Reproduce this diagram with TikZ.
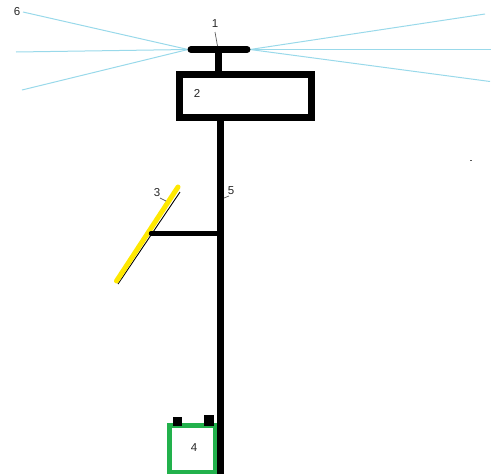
\documentclass[tikz,border=0pt]{standalone}
\usepackage{fontspec}
\setmainfont{Liberation Sans}
\definecolor{ray}{RGB}{153,217,234}
\definecolor{batt}{RGB}{34,177,76}
\definecolor{panel}{RGB}{255,232,0}
\definecolor{lead}{RGB}{90,90,90}
\tikzset{
  rayline/.style={draw=ray,line width=1pt},
  struct/.style={draw=black,line width=7pt},
  leader/.style={draw=lead,line width=0.7pt},
  lab/.style={font=\fontsize{11.5}{12}\selectfont,text=black!85,inner sep=0pt},
  boxshape/.style={rectangle,inner sep=0pt,draw=black,line width=7pt},
  term/.style={rectangle,inner sep=0pt,fill=black}
}
\begin{document}
\begin{tikzpicture}[x=1pt,y=-1pt]
\useasboundingbox (0,0) rectangle (491,474);
% rays
\coordinate (lt) at (188,49.5);
\coordinate (rt) at (250,49.5);
\coordinate (r1) at (23,12);
\coordinate (r2) at (16,52);
\coordinate (r3) at (22,90);
\coordinate (r4) at (485,14);
\coordinate (r5) at (491,49.5);
\coordinate (r6) at (490,81.5);
\foreach \e in {r1,r2,r3}{\draw[rayline] (lt) -- (\e);}
\foreach \e in {r4,r5,r6}{\draw[rayline] (rt) -- (\e);}
% controller box
\node[boxshape,minimum width=132pt,minimum height=43pt] (box) at (245.5,96) {};
% lamp
\coordinate (la) at (191,49.5);
\coordinate (lb) at (247,49.5);
\draw[struct,line cap=round] (la) -- (lb);
\coordinate (lampmid) at (218,49.5);
\coordinate (boxtop) at (218,72);
\draw[struct] (lampmid) -- (boxtop);
% battery
\node[rectangle,inner sep=0pt,draw=batt,line width=5pt,minimum width=45.5pt,minimum height=46.5pt] (batt) at (192.5,449) {};
\node[term,minimum width=9pt,minimum height=9pt] (tl) at (177.5,421.3) {};
\node[term,minimum width=10pt,minimum height=11pt] (tr) at (209.2,420.3) {};
% pole
\coordinate (poletop) at (220.3,118);
\coordinate (polebot) at (220.3,474);
\draw[struct] (poletop) -- (polebot);
% panel
\coordinate (pa) at (180,192);
\coordinate (pb) at (118,284);
\draw[draw=black,line width=0.9pt] (pa) -- (pb);
\coordinate (pc) at (178,187);
\coordinate (pd) at (116.5,281);
\draw[draw=panel,line width=5pt,line cap=round] (pc) -- (pd);
\coordinate (arm) at (151,233.5);
\coordinate (armend) at (218,233.5);
\draw[draw=black,line width=4.5pt,line cap=round] (arm) -- (armend);
% labels
\node[lab] (n1) at (215,24) {1};
\node[lab] (n2) at (197,93) {2};
\node[lab] (n3) at (157,193) {3};
\node[lab] (n4) at (194,448) {4};
\node[lab] (n5) at (231,191) {5};
\node[lab] (n6) at (17,12) {6};
% leaders
\coordinate (l1) at (217.5,46);
\coordinate (l3) at (166,201);
\coordinate (l5) at (224,198);
\draw[leader] (n1) ++(0,8) -- (l1);
\draw[leader] (n3) ++(3,5) -- (l3);
\draw[leader] (n5) ++(-2,5) -- (l5);
% speck
\fill[lead] (470,159.5) rectangle (472,161);
\end{tikzpicture}
\end{document}
